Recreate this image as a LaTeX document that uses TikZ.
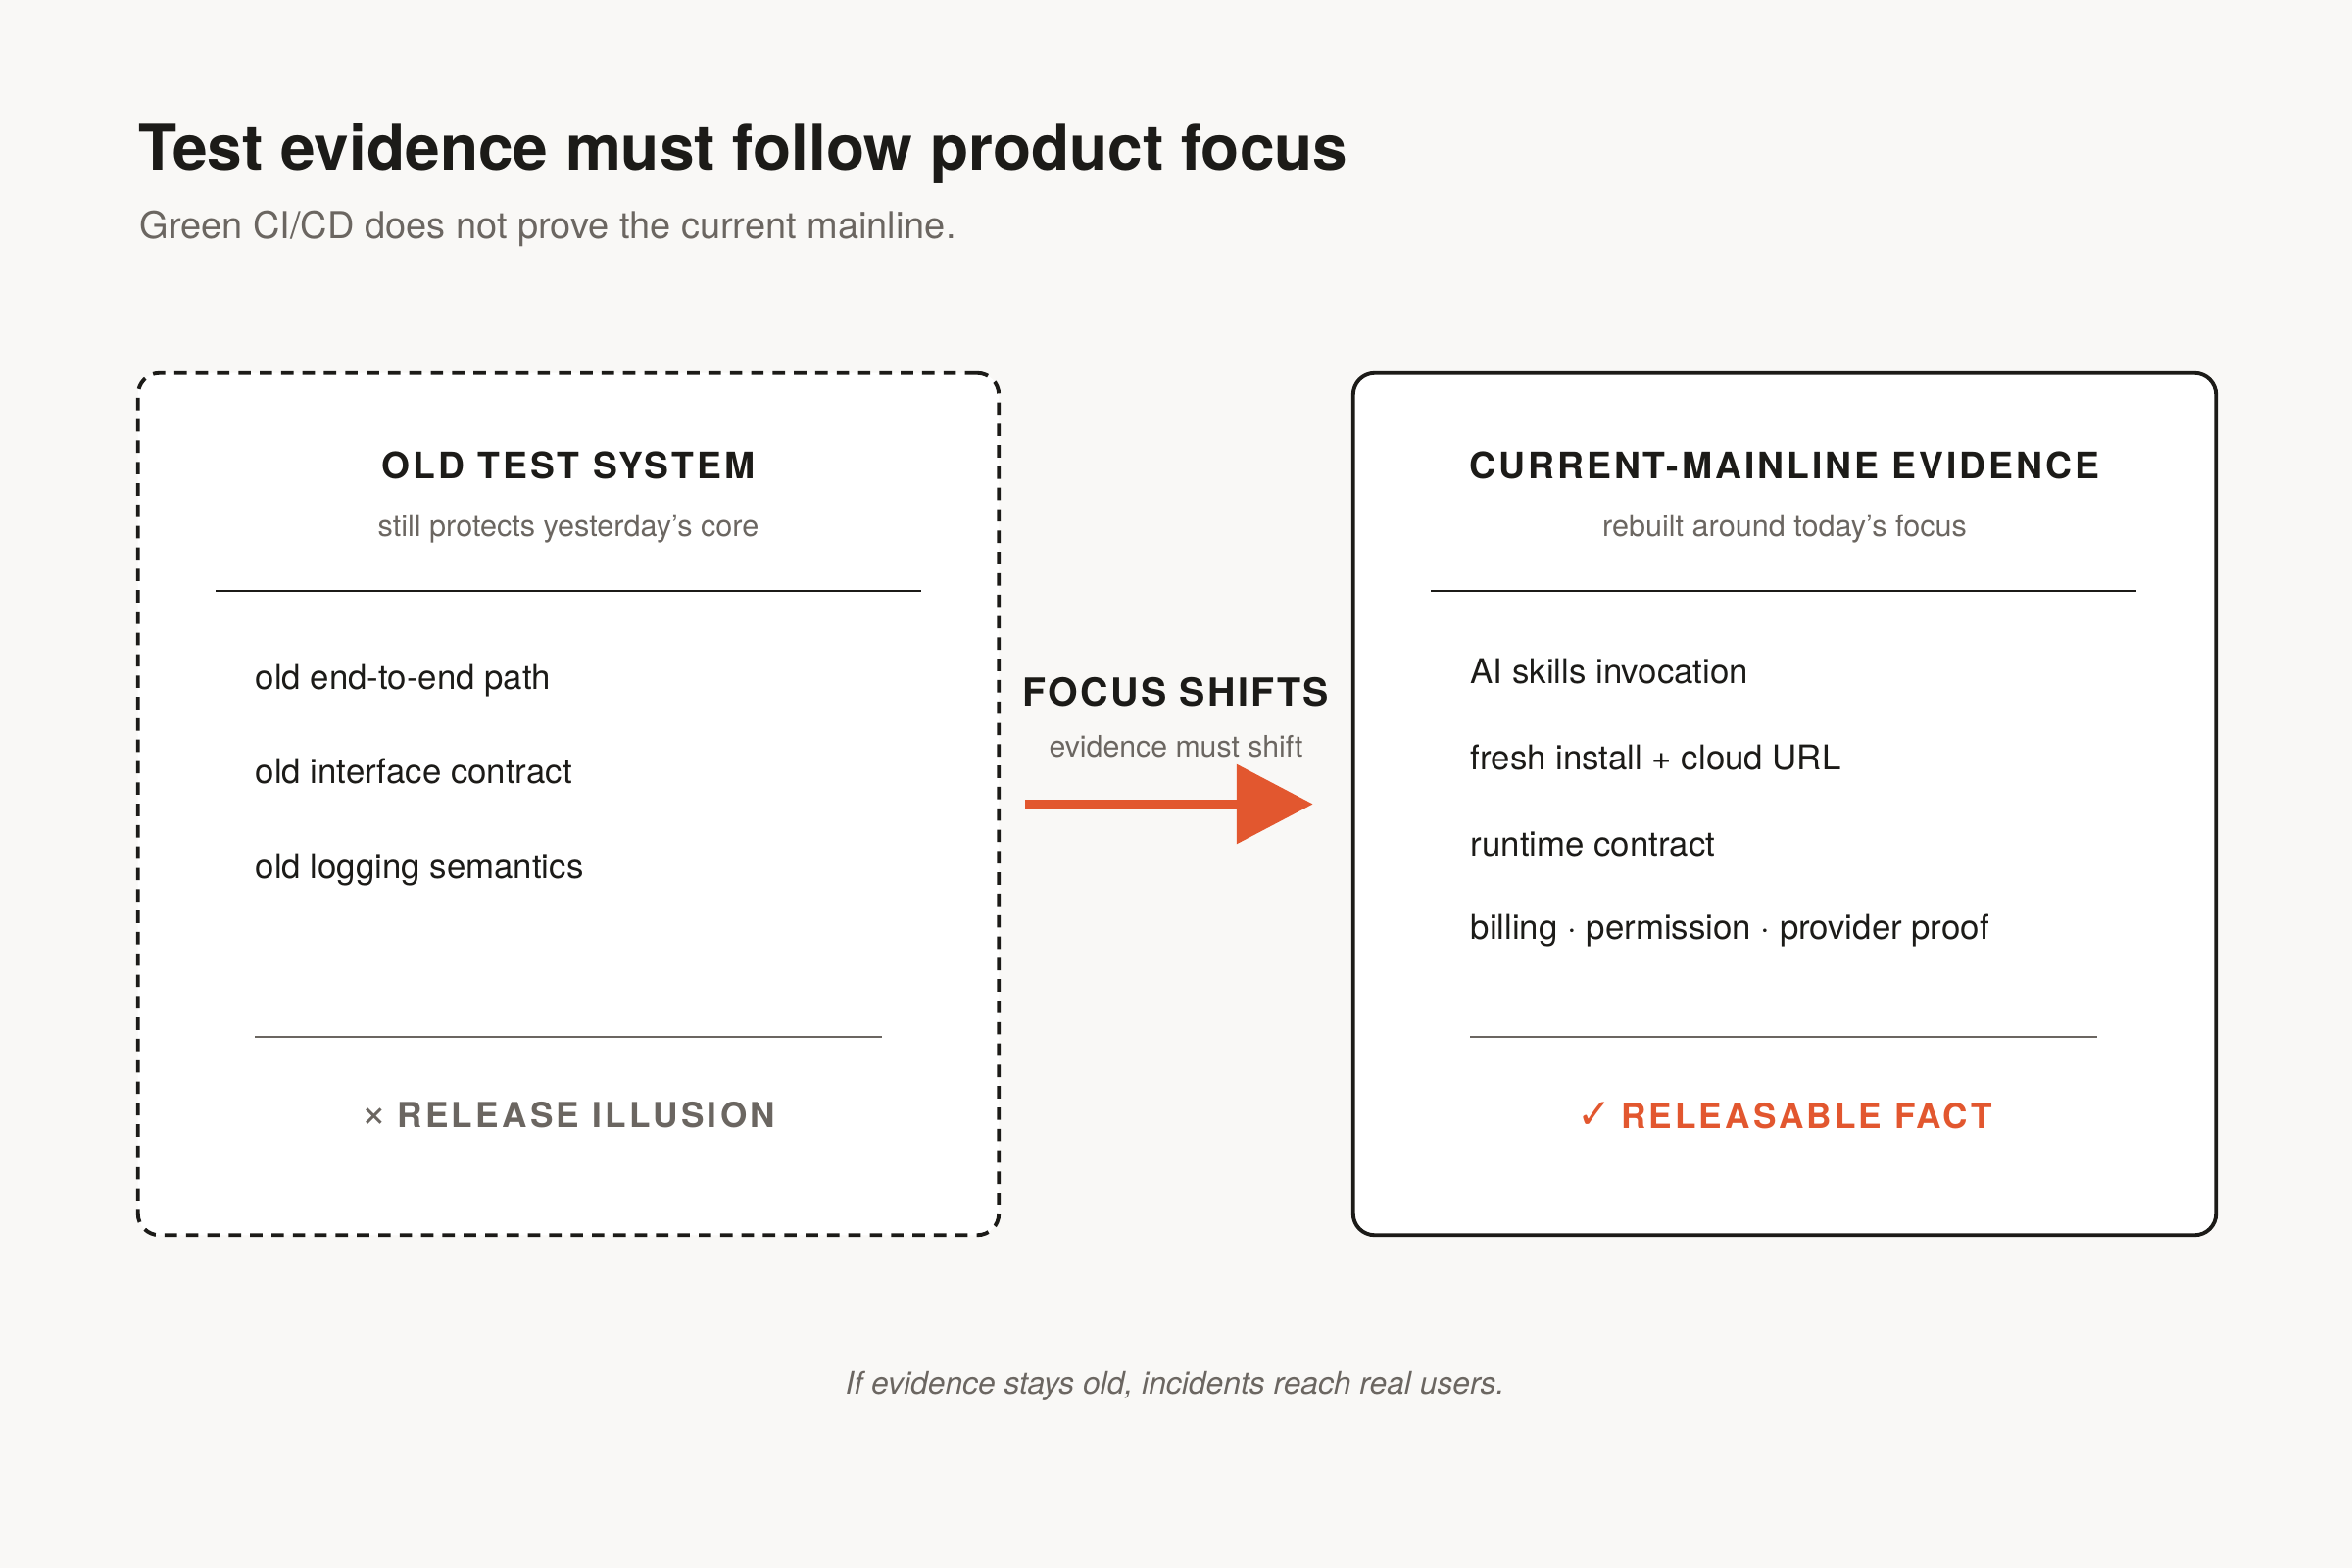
\documentclass[tikz,border=0pt]{standalone}
\usepackage{fontspec}
\setmainfont{TeX Gyre Heros}
\newfontfamily\capsfont[LetterSpace=8]{TeX Gyre Heros}
\newfontfamily\symfont{DejaVu Sans}
\usetikzlibrary{arrows.meta}
\definecolor{inkcol}{HTML}{1C1B18}
\definecolor{greycol}{HTML}{6B6661}
\definecolor{orangecol}{HTML}{E2572F}
\definecolor{bgcol}{HTML}{F9F8F6}
\tikzstyle{oldbox} = [rectangle, rounded corners=0.22cm, minimum width=8.78cm, minimum height=8.79cm, draw=inkcol, fill=white, line width=1.1pt, dash pattern=on 3.6pt off 2.6pt]
\tikzstyle{newbox} = [rectangle, rounded corners=0.22cm, minimum width=8.8cm, minimum height=8.79cm, draw=inkcol, fill=white, line width=1.1pt]
\tikzstyle{head} = [inner sep=0, text=inkcol, font=\capsfont\fontsize{10.6}{12}\selectfont\bfseries]
\tikzstyle{subhead} = [inner sep=0, text=greycol, font=\fontsize{8.7}{10}\selectfont]
\tikzstyle{item} = [inner sep=0, anchor=west, text=inkcol, font=\fontsize{9.9}{12}\selectfont]
\tikzstyle{rule} = [draw=inkcol, line width=0.85pt]
\tikzstyle{thinrule} = [draw=greycol, line width=0.7pt]
\tikzstyle{arrow} = [draw=orangecol, line width=0.1cm, -{Triangle[length=0.78cm, width=0.79cm]}]

\begin{document}
\begin{tikzpicture}[x=0.01cm, y=-0.01cm]
	\fill[bgcol] (0,0) rectangle (2400,1600);
	\useasboundingbox (0,0) rectangle (2400,1600);

	\node (title) [inner sep=0, anchor=base west, text=inkcol, font=\fontsize{18.2}{22}\selectfont\bfseries] at (141,174) {Test evidence must follow product focus};
	\node (subtitle) [inner sep=0, anchor=base west, text=greycol, font=\fontsize{10.8}{13}\selectfont] at (142,243) {Green CI/CD does not prove the current mainline.};

	\node (old) [oldbox] at (580,820.5) {};
	\node (new) [newbox] at (1821,820.5) {};

	% old side
	\node (oldhead) [head] at (580,475) {OLD TEST SYSTEM};
	\node (oldsub) [subhead] at (580,540) {still protects yesterday’s core};
	\draw [rule] (220,603) -- (940,603);
	\node (o1) [item] at (260,695) {old end-to-end path};
	\node (o2) [item] at (260,787) {old interface contract};
	\node (o3) [item] at (260,888) {old logging semantics};
	\draw [thinrule] (260,1058) -- (900,1058);
	\node (oldfoot) [inner sep=0, text=greycol, font=\fontsize{10}{12}\selectfont] at (580,1138) {{\fontsize{13}{12}\selectfont ×}~{\capsfont\addfontfeatures{LetterSpace=9.5}\bfseries RELEASE ILLUSION}};

	% new side
	\node (newhead) [head] at (1821,475) {CURRENT-MAINLINE EVIDENCE};
	\node (newsub) [subhead] at (1821,540) {rebuilt around today’s focus};
	\draw [rule] (1460,603) -- (2180,603);
	\node (n1) [item] at (1500,685) {AI skills invocation};
	\node (n2) [item] at (1500,773) {fresh install + cloud URL};
	\node (n3) [item] at (1500,861) {runtime contract};
	\node (n4) [item] at (1500,950) {billing · permission · provider proof};
	\draw [thinrule] (1500,1058) -- (2140,1058);
	\node (newfoot) [inner sep=0, text=orangecol, font=\fontsize{10}{12}\selectfont] at (1821,1138) {{\symfont\fontsize{12}{12}\selectfont ✓}~{\capsfont\addfontfeatures{LetterSpace=9}\bfseries RELEASABLE FACT}};

	% the shift
	\node (shift) [inner sep=0, text=inkcol, font=\capsfont\addfontfeatures{LetterSpace=6}\fontsize{11.2}{13}\selectfont\bfseries] at (1200,706) {FOCUS SHIFTS};
	\node (shiftsub) [inner sep=0, text=greycol, font=\fontsize{8.6}{10}\selectfont] at (1200,762) {evidence must shift};
	\draw [arrow, shorten <=0.25cm, shorten >=0.39cm] (old.east) -- (new.west);

	\node (note) [inner sep=0, text=greycol, font=\fontsize{9.05}{11}\selectfont\itshape] at (1199,1414) {If evidence stays old, incidents reach real users.};
\end{tikzpicture}
\end{document}
